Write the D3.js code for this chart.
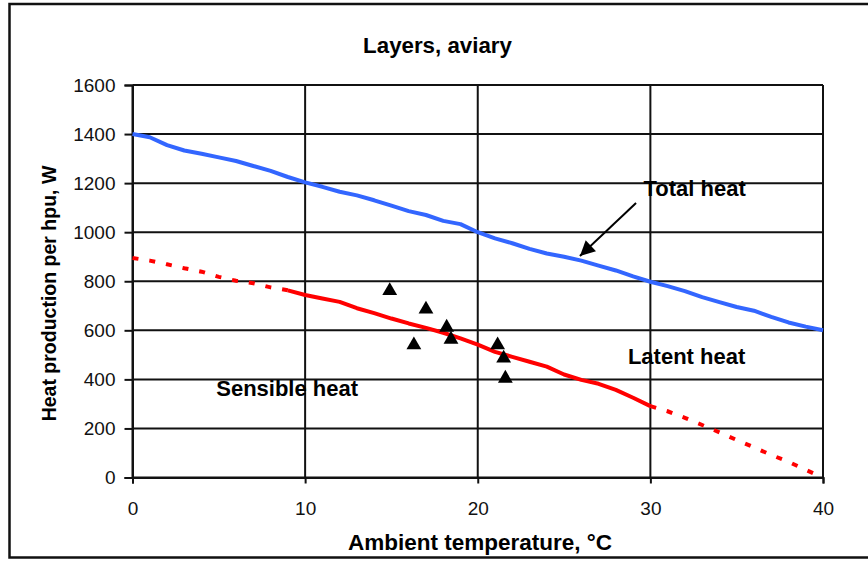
<!DOCTYPE html>
<html>
<head>
<meta charset="utf-8">
<script src="https://cdn.jsdelivr.net/npm/d3@7"></script>
<style>
  html, body { margin: 0; padding: 0; background: #fff; }
  svg { display: block; font-family: Arial, "Liberation Sans", sans-serif; }
</style>
</head>
<body>
<svg id="chart" width="868" height="561"></svg>
<script>
// ---- data ----
const title = "Layers, aviary";
const xLabel = "Ambient temperature, °C";
const yLabel = "Heat production per hpu, W";
const xTicks = [0, 10, 20, 30, 40];
const yTicks = [0, 200, 400, 600, 800, 1000, 1200, 1400, 1600];

const totalTemp = [0,1,2,3,4,5,6,7,8,9,10,11,12,13,14,15,16,17,18,19,20,21,22,23,24,25,26,27,28,29,30,31,32,33,34,35,36,37,38,39,40];
const totalHeat = [1400,1387,1355,1333,1320,1305,1290,1270,1250,1225,1203,1185,1165,1150,1130,1108,1086,1070,1046,1033,1000,975,955,932,913,900,884,864,844,820,798,780,760,735,715,695,680,655,632,615,600];

const sensLowTemp = [0,1,2,3,4,5,6,7,8,9];
const sensLowHeat = [895,884,869,853,839,818,802,792,775,763];
const sensMidTemp = [9,10,11,12,13,14,15,16,17,18,19,20,21,22,23,24,25,26,27,28,29,30];
const sensMidHeat = [763,744,730,716,690,670,648,628,610,590,567,542,512,492,472,452,420,398,382,357,325,291];
const sensHighTemp = [30,31,32,33,34,35,36,37,38,39,40];
const sensHighHeat = [291,270,243,214,184,153,123,92,64,31,0];

const obsTemp = [14.9, 17.0, 18.2, 18.45, 16.3, 21.15, 21.5, 21.6];
const obsHeat = [761, 686, 612, 563, 540, 540, 486, 404];

const labels = [
  {text: "Total heat", t: 29.6, v: 1148},
  {text: "Latent heat", t: 28.7, v: 463},
  {text: "Sensible heat", t: 4.85, v: 333}
];
const arrowFrom = {t: 29.17, v: 1119};
const arrowTo = {t: 25.92, v: 903};

// ---- drawing ----
const svg = d3.select("#chart");
const x = d3.scaleLinear().domain([0, 40]).range([132.5, 823]);
const y = d3.scaleLinear().domain([0, 1600]).range([477.5, 85]);

// outer frame
svg.append("rect").attr("x", 9.5).attr("y", 4).attr("width", 870).attr("height", 553.5)
  .attr("fill", "none").attr("stroke", "#111").attr("stroke-width", 2.5);

// grid
const grid = svg.append("g");
grid.selectAll("line.h").data(yTicks).join("line")
  .attr("x1", x(0)).attr("x2", x(40))
  .attr("y1", d => y(d)).attr("y2", d => y(d))
  .attr("stroke", "#111").attr("stroke-width", 2);
grid.selectAll("line.v").data(xTicks).join("line")
  .attr("y1", y(0)).attr("y2", y(1600))
  .attr("x1", d => x(d)).attr("x2", d => x(d))
  .attr("stroke", "#111").attr("stroke-width", 2);

// axes
const yAxis = svg.append("g").attr("transform", `translate(${x(0)},0)`)
  .call(d3.axisLeft(y).tickValues(yTicks).tickSize(8).tickPadding(9).tickFormat(d3.format("d")));
const xAxis = svg.append("g").attr("transform", `translate(0,${y(0)})`)
  .call(d3.axisBottom(x).tickValues(xTicks).tickSize(6).tickPadding(18).tickFormat(d3.format("d")));
[yAxis, xAxis].forEach(g => {
  g.select(".domain").attr("stroke", "#111").attr("stroke-width", 2);
  g.selectAll(".tick line").attr("stroke", "#111").attr("stroke-width", 2);
  g.selectAll(".tick text").attr("fill", "#111")
    .style("font-size", "19px").style("font-family", "Arial, 'Liberation Sans', sans-serif");
});

// lines
const line = d3.line().x(d => x(d[0])).y(d => y(d[1]));
const zip = (a, b) => a.map((v, i) => [v, b[i]]);

svg.append("path").datum(zip(totalTemp, totalHeat)).attr("d", line)
  .attr("fill", "none").attr("stroke", "#3366ff").attr("stroke-width", 4).attr("stroke-linejoin", "round");

svg.append("path").datum(zip(sensMidTemp, sensMidHeat)).attr("d", line)
  .attr("fill", "none").attr("stroke", "#ff0000").attr("stroke-width", 4).attr("stroke-linejoin", "round");
[zip(sensLowTemp, sensLowHeat), zip(sensHighTemp, sensHighHeat)].forEach(seg => {
  svg.append("path").datum(seg).attr("d", line)
    .attr("fill", "none").attr("stroke", "#ff0000").attr("stroke-width", 4)
    .attr("stroke-dasharray", "6,11");
});

// observations
svg.append("g").selectAll("path").data(zip(obsTemp, obsHeat)).join("path")
  .attr("d", d3.symbol(d3.symbolTriangle, 95))
  .attr("transform", d => `translate(${x(d[0])},${y(d[1])})`)
  .attr("fill", "#000");

// arrow
svg.append("defs").append("marker").attr("id", "arr")
  .attr("viewBox", "0 0 10 10").attr("refX", 10).attr("refY", 5)
  .attr("markerWidth", 19).attr("markerHeight", 15).attr("markerUnits", "userSpaceOnUse")
  .attr("orient", "auto")
  .append("path").attr("d", "M0,0 L10,5 L0,10 Z").attr("fill", "#000");
svg.append("line")
  .attr("x1", x(arrowFrom.t)).attr("y1", y(arrowFrom.v))
  .attr("x2", x(arrowTo.t)).attr("y2", y(arrowTo.v))
  .attr("stroke", "#000").attr("stroke-width", 2).attr("marker-end", "url(#arr)");

// labels
svg.append("g").selectAll("text").data(labels).join("text")
  .attr("x", d => x(d.t)).attr("y", d => y(d.v))
  .attr("font-size", "22px").attr("font-weight", "bold").attr("fill", "#000")
  .text(d => d.text);

// titles
svg.append("text").attr("x", 437.5).attr("y", 53).attr("text-anchor", "middle")
  .attr("font-size", "22.3px").attr("font-weight", "bold").text(title);
svg.append("text").attr("x", 480).attr("y", 550).attr("text-anchor", "middle")
  .attr("font-size", "22.5px").attr("font-weight", "bold").text(xLabel);
svg.append("text").attr("transform", "translate(56,293.5) rotate(-90)").attr("text-anchor", "middle")
  .attr("font-size", "19.5px").attr("font-weight", "bold").text(yLabel);
</script>
</body>
</html>
